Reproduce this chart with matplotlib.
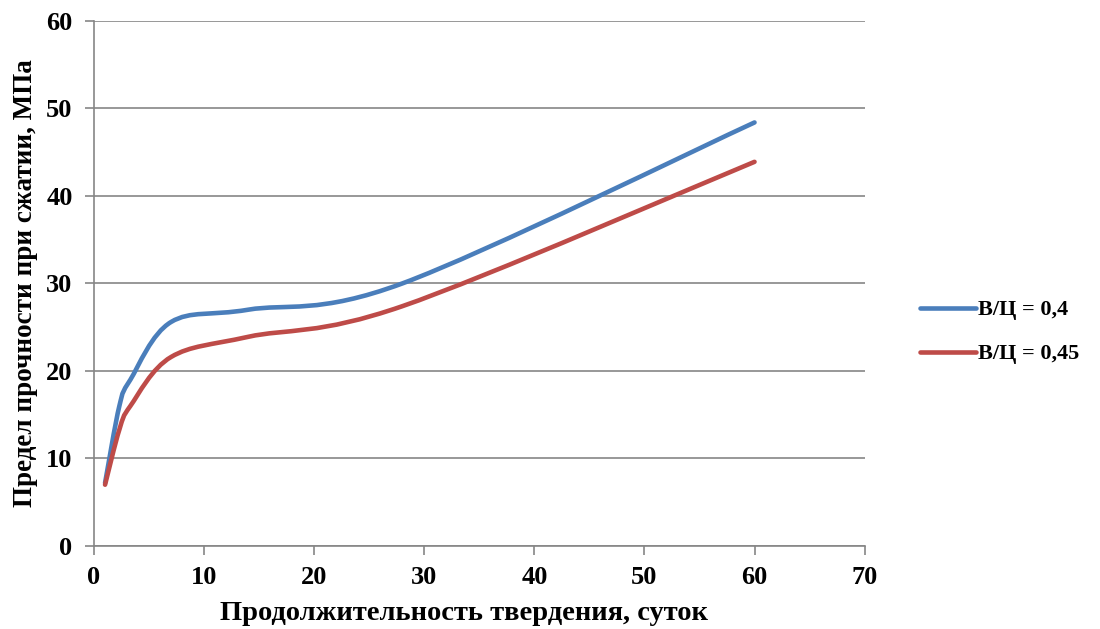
import numpy as np
import matplotlib
matplotlib.use("Agg")
import matplotlib.pyplot as plt
from matplotlib.path import Path
from matplotlib.patches import PathPatch
from matplotlib.lines import Line2D

plt.rcParams['font.family'] = ['Liberation Serif', 'DejaVu Serif']

days_blue = [1, 2.3, 3.3, 7, 14, 28, 60]
strength_blue = [7.2, 16.0, 19.0, 25.6, 27.0, 30.0, 48.4]
days_red = [1, 2.3, 3.3, 7, 14, 28, 60]
strength_red = [7.0, 13.3, 16.0, 21.6, 23.9, 27.4, 43.9]
labels = ['В/Ц = 0,4', 'В/Ц = 0,45']
colors = ['#4A7EBB', '#BE4B48']


def smooth_path(x, y):
    pts = np.column_stack([x, y]).astype(float)
    n = len(pts)
    verts = [pts[0]]
    codes = [Path.MOVETO]
    for i in range(n - 1):
        p0 = pts[i - 1] if i > 0 else pts[i]
        p1 = pts[i]
        p2 = pts[i + 1]
        p3 = pts[i + 2] if i + 2 < n else pts[i + 1]
        c1 = p1 + (p2 - p0) / 6.0
        c2 = p2 - (p3 - p1) / 6.0
        verts += [c1, c2, p2]
        codes += [Path.CURVE4] * 3
    return Path(verts, codes)


fig = plt.figure(figsize=(11, 6.29), dpi=100)
ax = fig.add_axes([0.0855, 0.132, 0.7005, 0.8347])

for x, y, c in [(days_blue, strength_blue, colors[0]), (days_red, strength_red, colors[1])]:
    patch = PathPatch(smooth_path(x, y), facecolor='none', edgecolor=c, lw=3.3,
                      capstyle='round', joinstyle='round', zorder=3)
    ax.add_patch(patch)

ax.set_xlim(0, 70)
ax.set_ylim(0, 60)
ax.set_xticks(range(0, 71, 10))
ax.set_yticks(range(0, 61, 10))
ax.yaxis.grid(True, color='#868686', lw=1.2)
ax.set_axisbelow(True)
for s in ['top', 'right']:
    ax.spines[s].set_visible(False)
for s in ['left', 'bottom']:
    ax.spines[s].set_color('#868686')
    ax.spines[s].set_linewidth(1.2)
ax.tick_params(axis='both', direction='out', length=6.5, color='#868686', width=1.2,
               labelsize=19)
ax.tick_params(axis='x', pad=8)
ax.tick_params(axis='y', pad=9)
for t in ax.get_xticklabels() + ax.get_yticklabels():
    t.set_fontweight('bold')
ax.set_xlabel('Продолжительность твердения, суток', fontsize=20.5, fontweight='bold', labelpad=12)
ax.xaxis.set_label_coords(0.48, -0.105)
ax.set_ylabel('Предел прочности при сжатии, МПа', fontsize=19.5, fontweight='bold', labelpad=6)

handles = [Line2D([0], [0], color=c, lw=3.3, solid_capstyle='round') for c in colors]
leg = fig.legend(handles, labels, loc='center left', bbox_to_anchor=(0.8364, 0.472),
                 frameon=False, prop={'size': 16, 'weight': 'bold'},
                 borderpad=0, borderaxespad=0,
                 handlelength=2.5, handletextpad=0.1, labelspacing=1.05)

fig.savefig('out.png', dpi=100)
